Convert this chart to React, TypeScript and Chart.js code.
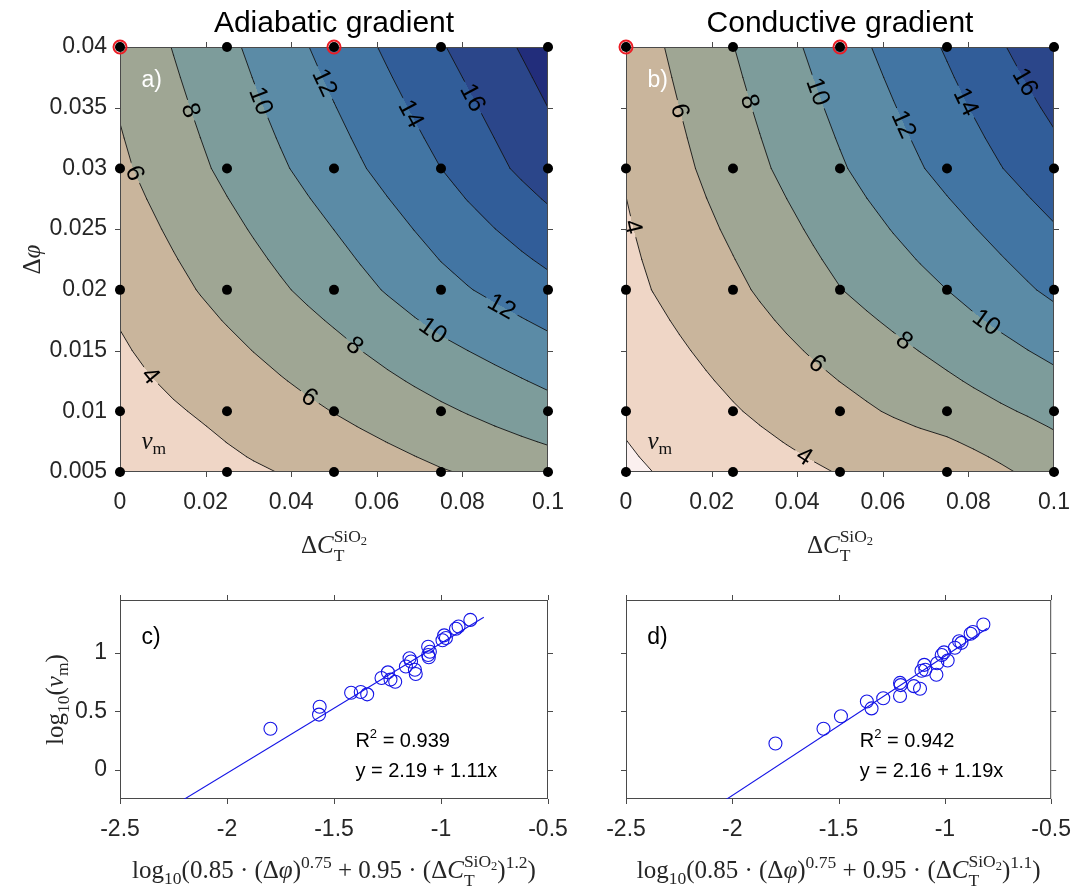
import { useEffect, useRef } from 'react';
import { Chart, registerables } from 'chart.js';

Chart.register(...registerables);

const PAGE_W = 1088;
const PAGE_H = 886;
const SANS = '"Liberation Sans", Arial, Helvetica, sans-serif';
const SERIF = '"Liberation Serif", "Times New Roman", serif';
const INK = '#262626';
const MATH_SIZE = 25;
const Y_AXIS_W = 100;
const X_AXIS_H = 60;

// ---------------------------------------------------------------------------
// Simulation grid: silica contrast (columns) and porosity contrast (rows)
const deltaC = [0, 0.025, 0.05, 0.075, 0.1];
const deltaPhi = [0.005, 0.01, 0.02, 0.03, 0.04];

// v_m for the adiabatic runs, one row per deltaPhi, one column per deltaC
const vmAdiabatic = [
  [2.25, 3.58, 4.5, 5.87, 6.98],
  [3.21, 4.46, 6.05, 7.7, 9.3],
  [4.39, 6.65, 8.9, 11.4, 13.4],
  [5.67, 8.4, 11.13, 14.0, 17.1],
  [6.56, 9.58, 12.73, 15.85, 18.9],
];

// v_m for the conductive runs
const vmConductive = [
  [1.7, 2.9, 4.08, 4.63, 6.8],
  [2.26, 3.86, 5.38, 6.99, 8.54],
  [3.5, 5.6, 7.95, 10.0, 12.39],
  [4.15, 7.0, 9.8, 12.58, 15.29],
  [4.9, 7.96, 11.09, 14.19, 17.45],
];

// contour levels and the colour of each band between them
const contourLevels = [2, 4, 6, 8, 10, 12, 14, 16, 18];
const bandColors = [
  '#fbf0ef', '#efd6c6', '#c9b59c', '#9fa694', '#7d9c9b',
  '#5b8ba6', '#4275a3', '#315d99', '#2b468a', '#222d7b',
];

// inline contour labels: [level, ΔC, Δφ] near which the label sits
const labelSpotsAdiabatic = [
  [6, 0.0034, 0.0296], [8, 0.0158, 0.0347], [10, 0.0326, 0.0355], [12, 0.0474, 0.037],
  [14, 0.068, 0.0345], [16, 0.0828, 0.0359], [4, 0.008, 0.0132], [6, 0.0438, 0.0109],
  [8, 0.0548, 0.0154], [10, 0.0734, 0.0168], [12, 0.089, 0.0185],
];
const labelSpotsConductive = [
  [4, 0.0016, 0.0252], [6, 0.0121, 0.0347], [8, 0.0288, 0.0355], [10, 0.0447, 0.0363],
  [12, 0.0647, 0.0336], [14, 0.0795, 0.0355], [16, 0.0927, 0.037], [4, 0.0421, 0.0065],
  [6, 0.0448, 0.014], [8, 0.0652, 0.0159], [10, 0.0842, 0.0173],
];

// runs marked in red
const highlightC = [0, 0.05];
const highlightPhi = [0.04, 0.04];

const contourXTicks = [0, 0.02, 0.04, 0.06, 0.08, 0.1];
const contourXTickLabels = ['0', '0.02', '0.04', '0.06', '0.08', '0.1'];
const contourYTicks = [0.005, 0.01, 0.015, 0.02, 0.025, 0.03, 0.035, 0.04];
const contourYTickLabels = ['0.005', '0.01', '0.015', '0.02', '0.025', '0.03', '0.035', '0.04'];

// scaling collapse: log10 of the combined contrast vs log10(v_m)
const collapseXAdiabatic = [
  -1.797, -1.567, -1.57, -1.42, -1.375, -1.345, -1.278, -1.248, -1.236, -1.214, -1.164, -1.147,
  -1.14, -1.122, -1.118, -1.06, -1.06, -1.057, -1.052, -0.993, -0.985, -0.977, -0.93, -0.918, -0.863,
];
const collapseYAdiabatic = [
  0.35, 0.538, 0.471, 0.658, 0.664, 0.644, 0.784, 0.832, 0.77, 0.751, 0.882, 0.952,
  0.924, 0.854, 0.818, 1.05, 0.98, 0.961, 1.008, 1.106, 1.148, 1.126, 1.204, 1.224, 1.28,
];
const collapseXConductive = [
  -1.797, -1.571, -1.489, -1.367, -1.345, -1.29, -1.211, -1.208, -1.211, -1.146, -1.117, -1.11,
  -1.097, -1.092, -1.04, -1.036, -1.015, -1.004, -0.987, -0.953, -0.933, -0.922, -0.879, -0.868, -0.819,
];
const collapseYConductive = [
  0.224, 0.35, 0.457, 0.583, 0.524, 0.611, 0.742, 0.723, 0.63, 0.714, 0.692, 0.846,
  0.896, 0.854, 0.812, 0.91, 0.98, 1.003, 0.933, 1.042, 1.098, 1.084, 1.162, 1.176, 1.241,
];

// linear fits: [intercept, slope], and R²
const fitAdiabatic = [2.19, 1.11];
const fitConductive = [2.16, 1.19];
const r2Adiabatic = 0.939;
const r2Conductive = 0.942;
const fitSpan = [-2.5, -0.8];

const scatterXTicks = [-2.5, -2, -1.5, -1, -0.5];
const scatterXTickLabels = ['-2.5', '-2', '-1.5', '-1', '-0.5'];
const scatterYTicks = [0, 0.5, 1];
const scatterYTickLabels = ['0', '0.5', '1'];

// ---------------------------------------------------------------------------
// Plot areas on the page
type Area = { left: number; top: number; right: number; bottom: number };
const AREA_A: Area = { left: 120, top: 47, right: 548, bottom: 472 };
const AREA_B: Area = { left: 626, top: 47, right: 1054, bottom: 472 };
const AREA_C: Area = { left: 120, top: 600, right: 548, bottom: 799 };
const AREA_D: Area = { left: 626, top: 600, right: 1054, bottom: 799 };

// ---------------------------------------------------------------------------
// Small rich-text renderer for the math-style labels
type Run = { t: string; s?: number; it?: boolean; dy?: number; mark?: boolean; back?: boolean; end?: boolean };

function layoutRuns(ctx: CanvasRenderingContext2D, runs: Run[], size: number, family: string) {
  let x = 0;
  let markX = 0;
  let maxX = 0;
  const items: { t: string; font: string; x: number; dy: number }[] = [];
  for (const r of runs) {
    if (r.end) x = Math.max(x, maxX);
    if (r.mark) {
      markX = x;
      maxX = x;
    }
    if (r.back) {
      maxX = Math.max(maxX, x);
      x = markX;
    }
    const font = `${r.it ? 'italic ' : ''}${(size * (r.s ?? 1)).toFixed(1)}px ${family}`;
    ctx.font = font;
    items.push({ t: r.t, font, x, dy: (r.dy ?? 0) * size });
    x += ctx.measureText(r.t).width;
  }
  return { items, width: Math.max(x, maxX) };
}

function drawRuns(
  ctx: CanvasRenderingContext2D,
  runs: Run[],
  size: number,
  family: string,
  x: number,
  y: number,
  opts: { align?: 'left' | 'center'; middle?: boolean; color?: string; rotate?: number } = {},
) {
  const { items, width } = layoutRuns(ctx, runs, size, family);
  ctx.save();
  ctx.translate(x, y);
  if (opts.rotate) ctx.rotate(opts.rotate);
  const x0 = opts.align === 'center' ? -width / 2 : 0;
  const y0 = opts.middle ? size * 0.35 : 0;
  ctx.fillStyle = opts.color ?? '#000';
  ctx.textAlign = 'left';
  ctx.textBaseline = 'alphabetic';
  for (const it of items) {
    ctx.font = it.font;
    ctx.fillText(it.t, x0 + it.x, y0 + it.dy);
  }
  ctx.restore();
}

const silicaRuns = (): Run[] => [
  { t: 'Δ' },
  { t: 'C', it: true },
  { t: 'T', s: 0.7, dy: 0.3, mark: true },
  { t: 'SiO', s: 0.7, dy: -0.45, back: true },
  { t: '2', s: 0.5, dy: -0.33 },
];
const phiRuns: Run[] = [{ t: 'Δ' }, { t: 'φ', it: true }];
const vmRuns: Run[] = [{ t: 'v', it: true }, { t: 'm', s: 0.7, dy: 0.22 }];
const logVmRuns: Run[] = [
  { t: 'log' }, { t: '10', s: 0.7, dy: 0.25 }, { t: '(' }, { t: 'v', it: true },
  { t: 'm', s: 0.7, dy: 0.22 }, { t: ')' },
];
const collapseRuns = (exp: string): Run[] => [
  { t: 'log' },
  { t: '10', s: 0.7, dy: 0.25 },
  { t: '(0.85 · (Δ' },
  { t: 'φ', it: true },
  { t: ')' },
  { t: '0.75', s: 0.7, dy: -0.42 },
  { t: ' + 0.95 · (Δ' },
  { t: 'C', it: true },
  { t: 'T', s: 0.7, dy: 0.3, mark: true },
  { t: 'SiO', s: 0.7, dy: -0.45, back: true },
  { t: '2', s: 0.5, dy: -0.33 },
  { t: ')', end: true },
  { t: exp, s: 0.7, dy: -0.42 },
  { t: ')' },
];

// ---------------------------------------------------------------------------
// Field helpers
function locate(arr: number[], v: number): [number, number] {
  let i = 0;
  while (i < arr.length - 2 && v > arr[i + 1]) i++;
  const t = (v - arr[i]) / (arr[i + 1] - arr[i]);
  return [i, Math.min(1, Math.max(0, t))];
}

function sampleField(z: number[][], x: number, y: number) {
  const [i, tx] = locate(deltaC, x);
  const [j, ty] = locate(deltaPhi, y);
  const a = z[j][i];
  const b = z[j][i + 1];
  const c = z[j + 1][i];
  const d = z[j + 1][i + 1];
  return (a * (1 - tx) + b * tx) * (1 - ty) + (c * (1 - tx) + d * tx) * ty;
}

function refine(arr: number[], n: number) {
  const out: number[] = [];
  for (let i = 0; i < arr.length - 1; i++) {
    for (let k = 0; k < n; k++) out.push(arr[i] + ((arr[i + 1] - arr[i]) * k) / n);
  }
  out.push(arr[arr.length - 1]);
  return out;
}

function isoSegments(fx: number[], fy: number[], fz: number[][], L: number) {
  const out: number[][] = [];
  const cross = (a: number, b: number) => (a >= L) !== (b >= L);
  const frac = (a: number, b: number) => (L - a) / (b - a);
  for (let j = 0; j < fy.length - 1; j++) {
    for (let i = 0; i < fx.length - 1; i++) {
      const z00 = fz[j][i];
      const z10 = fz[j][i + 1];
      const z01 = fz[j + 1][i];
      const z11 = fz[j + 1][i + 1];
      const x0 = fx[i];
      const x1 = fx[i + 1];
      const y0 = fy[j];
      const y1 = fy[j + 1];
      const p: number[][] = [];
      if (cross(z00, z10)) p.push([x0 + (x1 - x0) * frac(z00, z10), y0]);
      if (cross(z10, z11)) p.push([x1, y0 + (y1 - y0) * frac(z10, z11)]);
      if (cross(z01, z11)) p.push([x0 + (x1 - x0) * frac(z01, z11), y1]);
      if (cross(z00, z01)) p.push([x0, y0 + (y1 - y0) * frac(z00, z01)]);
      if (p.length === 2) out.push([...p[0], ...p[1]]);
      else if (p.length === 4) {
        const c = (z00 + z10 + z01 + z11) / 4;
        if ((c >= L) === (z00 >= L)) out.push([...p[0], ...p[1]], [...p[2], ...p[3]]);
        else out.push([...p[0], ...p[3]], [...p[1], ...p[2]]);
      }
    }
  }
  return out;
}

function hexToRgb(h: string) {
  const n = parseInt(h.slice(1), 16);
  return [(n >> 16) & 255, (n >> 8) & 255, n & 255];
}

// ---------------------------------------------------------------------------
// Drawing pieces shared by the panels
function drawFrame(chart: any, xt: number[], yt: number[]) {
  const { ctx, chartArea: a } = chart;
  const xs = chart.scales.x;
  const ys = chart.scales.y;
  ctx.save();
  ctx.strokeStyle = '#4a4a4a';
  ctx.lineWidth = 1;
  ctx.strokeRect(a.left + 0.5, a.top + 0.5, a.right - a.left - 1, a.bottom - a.top - 1);
  ctx.beginPath();
  const tick = 5;
  for (const v of xt) {
    const px = Math.round(xs.getPixelForValue(v)) + 0.5;
    ctx.moveTo(px, a.bottom);
    ctx.lineTo(px, a.bottom + tick);
    ctx.moveTo(px, a.top);
    ctx.lineTo(px, a.top - tick);
  }
  for (const v of yt) {
    const py = Math.round(ys.getPixelForValue(v)) + 0.5;
    ctx.moveTo(a.left, py);
    ctx.lineTo(a.left - tick, py);
    ctx.moveTo(a.right, py);
    ctx.lineTo(a.right + tick, py);
  }
  ctx.stroke();
  ctx.restore();
}

function drawContourField(chart: any, z: number[][], spots: number[][]) {
  const { ctx, chartArea: a } = chart;
  const xs = chart.scales.x;
  const ys = chart.scales.y;

  // filled bands, evaluated pixel by pixel through the scales
  const w = Math.round(a.right - a.left);
  const h = Math.round(a.bottom - a.top);
  const off = document.createElement('canvas');
  off.width = w;
  off.height = h;
  const octx = off.getContext('2d')!;
  const img = octx.createImageData(w, h);
  const rgb = bandColors.map(hexToRgb);
  for (let j = 0; j < h; j++) {
    const y = ys.getValueForPixel(a.top + j + 0.5);
    for (let i = 0; i < w; i++) {
      const x = xs.getValueForPixel(a.left + i + 0.5);
      const v = sampleField(z, x, y);
      let band = 0;
      while (band < contourLevels.length && v >= contourLevels[band]) band++;
      const c = rgb[band];
      const k = (j * w + i) * 4;
      img.data[k] = c[0];
      img.data[k + 1] = c[1];
      img.data[k + 2] = c[2];
      img.data[k + 3] = 255;
    }
  }
  octx.putImageData(img, 0, 0);
  ctx.drawImage(off, a.left, a.top);

  // contour lines on a refined grid
  const fx = refine(deltaC, 4);
  const fy = refine(deltaPhi, 4);
  const fz = fy.map((y) => fx.map((x) => sampleField(z, x, y)));
  const segsByLevel = new Map<number, number[][]>();
  for (const L of contourLevels) {
    const segs = isoSegments(fx, fy, fz, L).map((s) => [
      xs.getPixelForValue(s[0]), ys.getPixelForValue(s[1]),
      xs.getPixelForValue(s[2]), ys.getPixelForValue(s[3]),
    ]);
    segsByLevel.set(L, segs);
  }

  // inline labels snapped onto their contour
  const labelFont = `25px ${SANS}`;
  ctx.font = labelFont;
  const placed = spots.map(([level, sx, sy]) => {
    const px = xs.getPixelForValue(sx);
    const py = ys.getPixelForValue(sy);
    let best = { d: Infinity, x: px, y: py, dx: 1, dy: 0 };
    for (const [ax, ay, bx, by] of segsByLevel.get(level) ?? []) {
      const vx = bx - ax;
      const vy = by - ay;
      const len2 = vx * vx + vy * vy || 1;
      const t = Math.max(0, Math.min(1, ((px - ax) * vx + (py - ay) * vy) / len2));
      const qx = ax + t * vx;
      const qy = ay + t * vy;
      const d = Math.hypot(qx - px, qy - py);
      if (d < best.d) best = { d, x: qx, y: qy, dx: vx, dy: vy };
    }
    let ang = Math.atan2(best.dy, best.dx);
    if (ang > Math.PI / 2) ang -= Math.PI;
    if (ang <= -Math.PI / 2) ang += Math.PI;
    const text = String(level);
    return { text, cx: best.x, cy: best.y, ang, w: ctx.measureText(text).width };
  });

  ctx.save();
  ctx.beginPath();
  ctx.rect(a.left, a.top, a.right - a.left, a.bottom - a.top);
  for (const p of placed) {
    const hw = p.w / 2 + 4;
    const hh = 11;
    const c = Math.cos(p.ang);
    const s = Math.sin(p.ang);
    const corners = [[-hw, -hh], [hw, -hh], [hw, hh], [-hw, hh]].map(([u, v]) => [
      p.cx + u * c - v * s,
      p.cy + u * s + v * c,
    ]);
    ctx.moveTo(corners[0][0], corners[0][1]);
    for (let k = 1; k < 4; k++) ctx.lineTo(corners[k][0], corners[k][1]);
    ctx.closePath();
  }
  ctx.clip('evenodd');
  ctx.strokeStyle = '#141414';
  ctx.lineWidth = 0.9;
  ctx.lineCap = 'round';
  ctx.beginPath();
  for (const segs of segsByLevel.values()) {
    for (const [ax, ay, bx, by] of segs) {
      ctx.moveTo(ax, ay);
      ctx.lineTo(bx, by);
    }
  }
  ctx.stroke();
  ctx.restore();

  ctx.save();
  ctx.fillStyle = '#000';
  ctx.font = labelFont;
  ctx.textAlign = 'center';
  ctx.textBaseline = 'middle';
  for (const p of placed) {
    ctx.save();
    ctx.translate(p.cx, p.cy);
    ctx.rotate(p.ang);
    ctx.fillText(p.text, 0, 1);
    ctx.restore();
  }
  ctx.restore();
}

// ---------------------------------------------------------------------------
// Chart configs
function axis(
  min: number, max: number, ticks: number[], labels: string[], showLabels: boolean,
  horizontal: boolean, padding: number,
) {
  return {
    type: 'linear',
    position: horizontal ? 'bottom' : 'left',
    min,
    max,
    grid: { display: false, drawTicks: false },
    border: { display: false },
    ticks: {
      display: showLabels,
      autoSkip: false,
      maxRotation: 0,
      minRotation: 0,
      padding,
      color: INK,
      font: { family: SANS, size: 23 },
      callback: (_v: number, i: number) => labels[i],
    },
    afterBuildTicks: (s: any) => {
      s.ticks = ticks.map((value) => ({ value }));
    },
    afterFit: (s: any) => {
      if (horizontal) s.height = X_AXIS_H;
      else s.width = Y_AXIS_W;
    },
  };
}

function baseOptions(area: Area) {
  return {
    responsive: false,
    maintainAspectRatio: false,
    animation: false,
    devicePixelRatio: 1,
    events: [],
    layout: {
      autoPadding: false,
      padding: {
        left: area.left - Y_AXIS_W,
        right: PAGE_W - area.right,
        top: area.top,
        bottom: PAGE_H - area.bottom - X_AXIS_H,
      },
    },
    plugins: { legend: { display: false }, tooltip: { enabled: false }, title: { display: false } },
  };
}

type ContourPanel = {
  area: Area;
  z: number[][];
  spots: number[][];
  title: string;
  tag: string;
  yLabels: boolean;
};

function contourConfig(p: ContourPanel): any {
  const gridPoints = deltaPhi.flatMap((y) => deltaC.map((x) => ({ x, y })));
  const marked = highlightC.map((x, i) => ({ x, y: highlightPhi[i] }));
  return {
    type: 'scatter',
    data: {
      datasets: [
        {
          data: gridPoints,
          pointRadius: 5,
          pointHoverRadius: 5,
          pointBackgroundColor: '#000',
          pointBorderWidth: 0,
          clip: false,
        },
        {
          data: marked,
          pointRadius: 6.5,
          pointHoverRadius: 6.5,
          pointBackgroundColor: 'rgba(0,0,0,0)',
          pointBorderColor: '#ec1c24',
          pointBorderWidth: 2,
          clip: false,
        },
      ],
    },
    options: {
      ...baseOptions(p.area),
      scales: {
        x: axis(0, 0.1, contourXTicks, contourXTickLabels, true, true, 17),
        y: axis(0.005, 0.04, contourYTicks, contourYTickLabels, p.yLabels, false, 13),
      },
    },
    plugins: [
      {
        id: 'contourField',
        beforeDatasetsDraw(chart: any) {
          const { ctx, chartArea: a } = chart;
          const xs = chart.scales.x;
          const ys = chart.scales.y;
          drawContourField(chart, p.z, p.spots);
          drawFrame(chart, contourXTicks, contourYTicks);

          ctx.save();
          ctx.fillStyle = '#fff';
          ctx.font = `23px ${SANS}`;
          ctx.textAlign = 'left';
          ctx.textBaseline = 'middle';
          ctx.fillText(p.tag, xs.getPixelForValue(0.005), ys.getPixelForValue(0.0372));
          ctx.restore();
          drawRuns(ctx, vmRuns, MATH_SIZE, SERIF, xs.getPixelForValue(0.005), ys.getPixelForValue(0.0069), {
            color: '#111',
          });

          // title and axis labels
          ctx.save();
          ctx.fillStyle = '#000';
          ctx.font = `30px ${SANS}`;
          ctx.textAlign = 'center';
          ctx.textBaseline = 'alphabetic';
          ctx.fillText(p.title, (a.left + a.right) / 2, a.top - 15);
          ctx.restore();
          drawRuns(ctx, silicaRuns(), MATH_SIZE, SERIF, (a.left + a.right) / 2, a.bottom + 81, {
            align: 'center',
            color: INK,
          });
          if (p.yLabels) {
            drawRuns(ctx, phiRuns, MATH_SIZE, SERIF, 31, (a.top + a.bottom) / 2, {
              align: 'center',
              middle: true,
              rotate: -Math.PI / 2,
              color: INK,
            });
          }
        },
      },
    ],
  };
}

type ScatterPanel = {
  area: Area;
  xs: number[];
  ys: number[];
  fit: number[];
  r2: number;
  tag: string;
  exponent: string;
  yLabels: boolean;
};

function scatterConfig(p: ScatterPanel): any {
  const blue = '#1414e6';
  const points = p.xs.map((x, i) => ({ x, y: p.ys[i] }));
  const line = fitSpan.map((x) => ({ x, y: p.fit[0] + p.fit[1] * x }));
  return {
    type: 'scatter',
    data: {
      datasets: [
        {
          data: points,
          pointRadius: 6.5,
          pointHoverRadius: 6.5,
          pointBackgroundColor: 'rgba(0,0,0,0)',
          pointBorderColor: blue,
          pointBorderWidth: 1.1,
          clip: false,
        },
        {
          data: line,
          showLine: true,
          borderColor: blue,
          borderWidth: 1.1,
          pointRadius: 0,
          pointHoverRadius: 0,
        },
      ],
    },
    options: {
      ...baseOptions(p.area),
      scales: {
        x: axis(-2.5, -0.5, scatterXTicks, scatterXTickLabels, true, true, 17),
        y: axis(-0.25, 1.45, scatterYTicks, scatterYTickLabels, p.yLabels, false, 13),
      },
    },
    plugins: [
      {
        id: 'collapseFrame',
        beforeDatasetsDraw(chart: any) {
          const { ctx, chartArea: a } = chart;
          const xs = chart.scales.x;
          const ys = chart.scales.y;
          drawFrame(chart, scatterXTicks, scatterYTicks);

          ctx.save();
          ctx.fillStyle = '#000';
          ctx.font = `23px ${SANS}`;
          ctx.textAlign = 'left';
          ctx.textBaseline = 'middle';
          ctx.fillText(p.tag, xs.getPixelForValue(-2.4), ys.getPixelForValue(1.13));
          ctx.restore();

          const r2Runs: Run[] = [{ t: 'R' }, { t: '2', s: 0.65, dy: -0.45 }, { t: ` = ${p.r2.toFixed(3)}` }];
          drawRuns(ctx, r2Runs, 20, SANS, xs.getPixelForValue(-1.4), ys.getPixelForValue(0.25), {
            middle: true,
          });
          const eq: Run[] = [{ t: `y = ${p.fit[0].toFixed(2)} + ${p.fit[1].toFixed(2)}x` }];
          drawRuns(ctx, eq, 20, SANS, xs.getPixelForValue(-1.4), ys.getPixelForValue(0), { middle: true });

          drawRuns(ctx, collapseRuns(p.exponent), MATH_SIZE, SERIF, (a.left + a.right) / 2, a.bottom + 79, {
            align: 'center',
            color: INK,
          });
          if (p.yLabels) {
            drawRuns(ctx, logVmRuns, MATH_SIZE, SERIF, 54, (a.top + a.bottom) / 2, {
              align: 'center',
              middle: true,
              rotate: -Math.PI / 2,
              color: INK,
            });
          }
        },
      },
    ],
  };
}

// ---------------------------------------------------------------------------
function PanelCanvas({ make }: { make: () => any }) {
  const ref = useRef<HTMLCanvasElement>(null);
  useEffect(() => {
    const chart = new Chart(ref.current!, make());
    return () => chart.destroy();
  }, [make]);
  return (
    <canvas
      ref={ref}
      width={PAGE_W}
      height={PAGE_H}
      style={{ position: 'absolute', left: 0, top: 0, width: PAGE_W, height: PAGE_H }}
    />
  );
}

const makeA = () =>
  contourConfig({
    area: AREA_A, z: vmAdiabatic, spots: labelSpotsAdiabatic,
    title: 'Adiabatic gradient', tag: 'a)', yLabels: true,
  });
const makeB = () =>
  contourConfig({
    area: AREA_B, z: vmConductive, spots: labelSpotsConductive,
    title: 'Conductive gradient', tag: 'b)', yLabels: false,
  });
const makeC = () =>
  scatterConfig({
    area: AREA_C, xs: collapseXAdiabatic, ys: collapseYAdiabatic, fit: fitAdiabatic,
    r2: r2Adiabatic, tag: 'c)', exponent: '1.2', yLabels: true,
  });
const makeD = () =>
  scatterConfig({
    area: AREA_D, xs: collapseXConductive, ys: collapseYConductive, fit: fitConductive,
    r2: r2Conductive, tag: 'd)', exponent: '1.1', yLabels: false,
  });

export default function App() {
  return (
    <div
      style={{
        position: 'absolute',
        left: 0,
        top: 0,
        width: PAGE_W,
        height: PAGE_H,
        background: '#fff',
        overflow: 'hidden',
      }}
    >
      <PanelCanvas make={makeA} />
      <PanelCanvas make={makeB} />
      <PanelCanvas make={makeC} />
      <PanelCanvas make={makeD} />
    </div>
  );
}
